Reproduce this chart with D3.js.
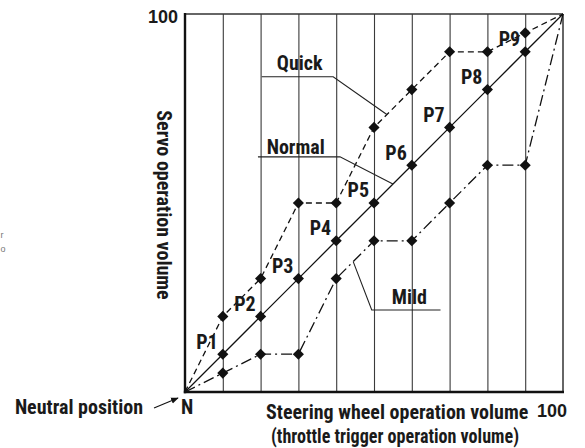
<!DOCTYPE html>
<html>
<head>
<meta charset="utf-8">
<script src="https://cdn.jsdelivr.net/npm/d3@7"></script>
<style>
  html, body { margin: 0; padding: 0; background: #fff; }
  svg { display: block; }
  .lbl { font-family: "Liberation Sans Narrow", "Roboto Condensed", "DejaVu Sans Condensed", sans-serif; font-weight: bold; fill: #1a1a1a; }
  .num { font-family: "Liberation Sans", Arial, sans-serif; font-weight: bold; fill: #1a1a1a; }
  .stray { font-family: "Liberation Sans", Arial, sans-serif; fill: #777; }
</style>
</head>
<body>
<svg id="chart" width="585" height="448"></svg>
<script>
// Steering wheel operation volume (x) and servo operation volume (y), in %
const steering = [0, 10, 20, 30, 40, 50, 60, 70, 80, 90, 100];
const normal   = [0, 10, 20, 30, 40, 50, 60, 70, 80, 90, 100];
const quick    = [0, 20, 30, 50, 50, 70, 80, 90, 90, 95, 100];
const mild     = [0,  5, 10, 10, 30, 40, 40, 50, 60, 60, 100];
const pointLabels = ["P1", "P2", "P3", "P4", "P5", "P6", "P7", "P8", "P9"];
const gridTicks = [10, 20, 30, 40, 50, 60, 70, 80, 90];

const svg = d3.select("#chart");
const x = d3.scaleLinear().domain([0, 100]).range([185, 563]);
const y = d3.scaleLinear().domain([0, 100]).range([392, 14]);

// value of a series at any steering position (straight segments between points)
const along = (vals) => d3.scaleLinear().domain(steering).range(vals);

// vertical grid lines
const grid = svg.append("g").attr("transform", `translate(0,${y(0)})`)
  .call(d3.axisBottom(x).tickValues(gridTicks).tickSize(-(y(0) - y(100))).tickFormat(""));
grid.select(".domain").remove();
grid.selectAll(".tick line").attr("stroke", "#3a3a3a").attr("stroke-width", 1.1);

// frame
svg.append("line").attr("x1", x(0)).attr("x2", x(100)).attr("y1", y(100)).attr("y2", y(100))
  .attr("stroke", "#333").attr("stroke-width", 1.6);
svg.append("line").attr("x1", x(100)).attr("x2", x(100)).attr("y1", y(100)).attr("y2", y(0))
  .attr("stroke", "#666").attr("stroke-width", 2);
svg.append("line").attr("x1", x(0)).attr("x2", x(0)).attr("y1", y(100) - 1).attr("y2", y(0) + 1.2)
  .attr("stroke", "#111").attr("stroke-width", 2.4);
svg.append("line").attr("x1", x(0) - 1.2).attr("x2", x(100) + 1).attr("y1", y(0)).attr("y2", y(0))
  .attr("stroke", "#111").attr("stroke-width", 2.4);

// curves
const curves = [
  { name: "Quick",  values: quick,  dash: "6,4" },
  { name: "Normal", values: normal, dash: null },
  { name: "Mild",   values: mild,   dash: "11,4,2,4" }
];
const line = d3.line().x((d, i) => x(steering[i])).y(d => y(d));
curves.forEach(c => {
  svg.append("path").datum(c.values).attr("d", line)
    .attr("fill", "none").attr("stroke", "#111").attr("stroke-width", 1.3)
    .attr("stroke-dasharray", c.dash);
});

// diamond markers at P1..P9
const diamond = d3.symbol().type(d3.symbolSquare).size(62);
curves.forEach(c => {
  svg.append("g").selectAll("path")
    .data(c.values.slice(1, 10).map((v, i) => [steering[i + 1], v]))
    .join("path")
    .attr("d", diamond)
    .attr("transform", d => `translate(${x(d[0])},${y(d[1])}) rotate(45)`)
    .attr("fill", "#111");
});

// point labels
svg.append("g").selectAll("text").data(pointLabels).join("text")
  .attr("class", "lbl")
  .attr("x", (d, i) => x(10 * (i + 1) - 7))
  .attr("y", (d, i) => y(10 * (i + 1) + 1.5))
  .attr("font-size", 20)
  .text(d => d);

// curve name callouts
const callouts = [
  { text: "Quick",  series: quick,  tx: 24.3, ty: 85.2, ux0: 20.3, uy: 83.4, ux1: 39.2, end: 53.4 },
  { text: "Normal", series: normal, tx: 21.6, ty: 63.0, ux0: 19.3, uy: 62.2, ux1: 41.0, end: 55.0 },
  { text: "Mild",   series: mild,   tx: 54.7, ty: 23.3, ux0: 67.6, uy: 21.7, ux1: 49.4, end: 44.5 }
];
callouts.forEach(c => {
  svg.append("text").attr("class", "lbl").attr("font-size", 20)
    .attr("x", x(c.tx)).attr("y", y(c.ty)).text(c.text);
  const pts = [[x(c.ux0), y(c.uy)], [x(c.ux1), y(c.uy)], [x(c.end), y(along(c.series)(c.end))]];
  svg.append("path").attr("d", d3.line()(pts))
    .attr("fill", "none").attr("stroke", "#222").attr("stroke-width", 1.1);
});

// axis end labels
svg.append("text").attr("class", "num").attr("font-size", 18).attr("text-anchor", "end")
  .attr("x", x(0) - 7).attr("y", y(100) + 9).text("100");
svg.append("text").attr("class", "num").attr("font-size", 18).attr("text-anchor", "end")
  .attr("x", 567).attr("y", 417).text("100");
svg.append("text").attr("class", "lbl").attr("font-size", 20)
  .attr("x", x(0) - 4).attr("y", 414).text("N");

// axis titles
svg.append("text").attr("class", "lbl").attr("font-size", 20)
  .attr("transform", "translate(157,205) rotate(90)")
  .attr("text-anchor", "middle").text("Servo operation volume");
svg.append("text").attr("class", "lbl").attr("font-size", 20)
  .attr("x", 266).attr("y", 419).text("Steering wheel operation volume");
svg.append("text").attr("class", "lbl").attr("font-size", 20)
  .attr("x", 271).attr("y", 443)
  .attr("textLength", 248).attr("lengthAdjust", "spacingAndGlyphs")
  .text("(throttle trigger operation volume)");

// neutral position pointer
svg.append("text").attr("class", "lbl").attr("font-size", 20).attr("text-anchor", "end")
  .attr("x", 143).attr("y", 414).text("Neutral position");
svg.append("defs").append("marker").attr("id", "head")
  .attr("viewBox", "0 0 10 10").attr("refX", 9).attr("refY", 5)
  .attr("markerWidth", 7).attr("markerHeight", 7).attr("orient", "auto")
  .append("path").attr("d", "M0,1 L10,5 L0,9 Z").attr("fill", "#111");
svg.append("line").attr("x1", 154).attr("y1", 408).attr("x2", 178).attr("y2", 398)
  .attr("stroke", "#111").attr("stroke-width", 1.1).attr("marker-end", "url(#head)");

// small letters at the left edge
svg.append("text").attr("class", "stray").attr("font-size", 9)
  .attr("x", 0.5).attr("y", 238).text("r");
svg.append("text").attr("class", "stray").attr("font-size", 9)
  .attr("x", 0.5).attr("y", 252).text("o");
</script>
</body>
</html>
